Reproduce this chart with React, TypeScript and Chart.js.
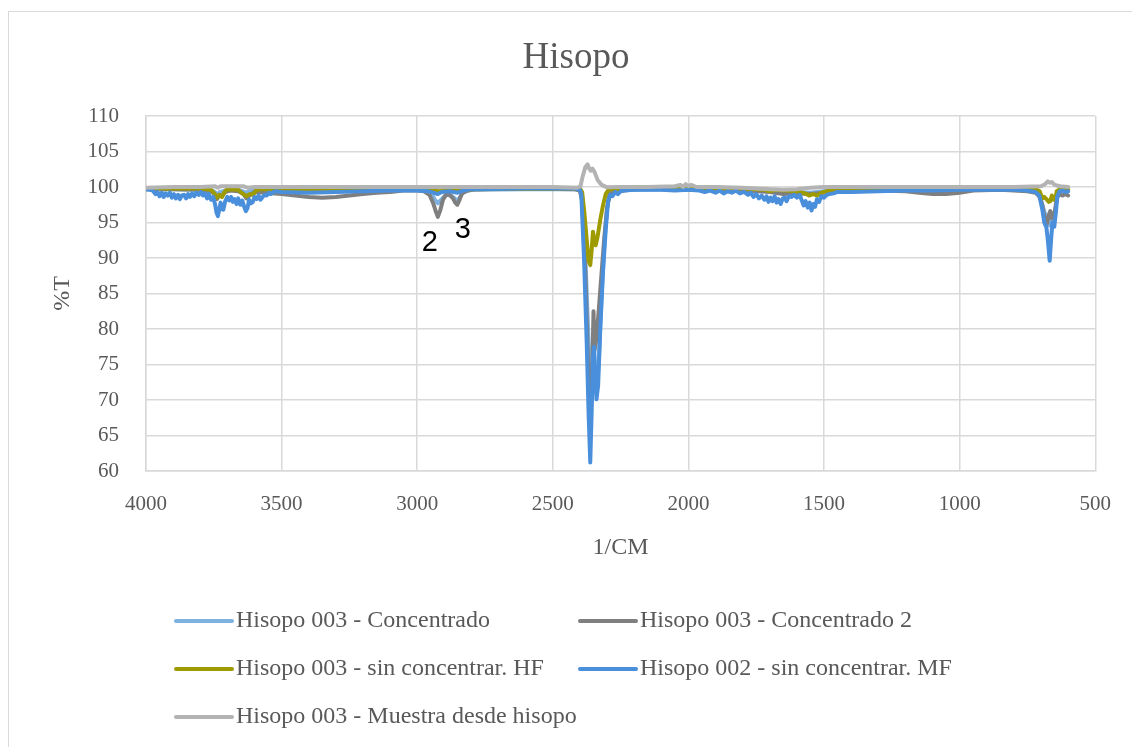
import { useEffect, useRef } from "react";
import { Chart, registerables } from "chart.js";

Chart.register(...registerables);

// FTIR transmittance spectra: [wavenumber (1/cm), %T]
const TITLE = "Hisopo";
const X_TITLE = "1/CM";
const Y_TITLE = "%T";

const seriesLabels = [
  "Hisopo 003 - Concentrado",
  "Hisopo 003 - Concentrado 2",
  "Hisopo 003 - sin concentrar. HF",
  "Hisopo 002 - sin concentrar. MF",
  "Hisopo 003 - Muestra desde hisopo",
];

const seriesColors = ["#7eb0e0", "#7f7f7f", "#9e9b00", "#4a8fdb", "#b3b3b3"];

const concentrado: [number, number][] = [
  [4000, 99.7], [3900, 99.7], [3800, 99.6], [3750, 99.4], [3740, 99.1], [3735, 98.8], [3728, 99.3],
  [3715, 99.4], [3700, 99.6], [3650, 99.5], [3632, 99.2], [3620, 99.4], [3600, 99.6], [3500, 99.5],
  [3300, 99.5], [3100, 99.6], [3000, 99.6], [2960, 99.4], [2945, 98.9], [2935, 98.2], [2924, 97.7],
  [2912, 98.2], [2895, 98.9], [2875, 98.8], [2862, 98.4], [2852, 98.0], [2842, 98.6], [2830, 99.3],
  [2800, 99.6], [2600, 99.7], [2420, 99.7], [2400, 99.5], [2392, 98.5], [2380, 90], [2370, 80],
  [2362, 72], [2355, 76], [2350, 79], [2344, 73], [2338, 71], [2330, 76], [2320, 85], [2310, 92],
  [2300, 97], [2290, 99.2], [2280, 99.4], [2200, 99.6], [2000, 99.7], [1800, 99.6], [1700, 99.5],
  [1600, 99.3], [1550, 99.2], [1500, 99.4], [1400, 99.5], [1200, 99.6], [1000, 99.6], [850, 99.6],
  [720, 99.5], [705, 98.8], [695, 97.5], [688, 96.5], [680, 95.8], [674, 95.3], [668, 94.6],
  [662, 95.6], [656, 95.9], [650, 96.3], [644, 97.5], [638, 98.8], [630, 99.3], [615, 99.4], [600, 99.4],
];

const concentrado2: [number, number][] = [
  [4000, 99.7], [3900, 99.7], [3800, 99.6], [3760, 99.4], [3748, 99.0], [3738, 98.3], [3730, 98.9],
  [3720, 98.7], [3708, 99.3], [3690, 99.5], [3660, 99.4], [3640, 99.0], [3630, 98.4], [3618, 98.8],
  [3600, 99.3], [3560, 99.2], [3500, 99.0], [3450, 98.8], [3400, 98.6], [3350, 98.5], [3300, 98.6],
  [3250, 98.8], [3200, 99.0], [3150, 99.2], [3100, 99.3], [3050, 99.5], [3000, 99.5], [2975, 99.4],
  [2955, 98.9], [2940, 97.6], [2930, 96.4], [2924, 95.8], [2916, 96.6], [2905, 98.2], [2892, 99.0],
  [2880, 98.9], [2868, 98.4], [2860, 97.8], [2852, 97.5], [2845, 98.1], [2835, 99.1], [2815, 99.5],
  [2780, 99.7], [2600, 99.8], [2420, 99.7], [2400, 99.5], [2392, 98], [2380, 88], [2370, 75],
  [2362, 66], [2356, 72], [2350, 82.5], [2346, 77], [2340, 78.5], [2332, 82], [2320, 88], [2310, 93],
  [2300, 97], [2290, 99], [2280, 99.3], [2200, 99.7], [2000, 99.9], [1900, 99.7], [1800, 99.5],
  [1700, 99.3], [1650, 99.0], [1600, 99.1], [1550, 99.0], [1500, 99.2], [1450, 99.3], [1400, 99.4],
  [1300, 99.5], [1200, 99.4], [1150, 99.2], [1100, 99.0], [1050, 99.0], [1000, 99.2], [950, 99.5],
  [850, 99.6], [750, 99.4], [720, 99.2], [705, 98.6], [695, 97.4], [686, 95.4], [678, 94.8],
  [672, 96.0], [666, 96.6], [660, 95.6], [654, 96.0], [648, 96.8], [642, 98.4], [635, 99.0],
  [620, 98.8], [610, 99.0], [600, 98.8],
];

const sinConcentrarHF: [number, number][] = [
  [4000, 99.8], [3900, 99.8], [3800, 99.8], [3760, 99.6], [3748, 99.1], [3738, 98.5], [3730, 98.9],
  [3720, 98.6], [3710, 99.3], [3700, 99.7], [3660, 99.6], [3645, 99.1], [3630, 98.7], [3618, 99.0],
  [3605, 98.9], [3595, 99.5], [3580, 99.7], [3500, 99.7], [3000, 99.7], [2940, 99.6], [2924, 99.4],
  [2852, 99.5], [2800, 99.7], [2420, 99.8], [2400, 99.8], [2392, 99.3], [2384, 96.5], [2375, 92.5],
  [2368, 89.6], [2362, 89.0], [2357, 91.0], [2352, 93.7], [2347, 92.6], [2342, 91.8], [2335, 93.0],
  [2325, 95.4], [2315, 97.4], [2305, 99.0], [2295, 99.6], [2280, 99.7], [2100, 99.8], [2000, 99.9],
  [1800, 99.8], [1720, 99.6], [1700, 99.4], [1680, 99.6], [1600, 99.4], [1570, 99.1], [1555, 98.8],
  [1540, 99.0], [1525, 98.8], [1510, 99.2], [1480, 99.5], [1400, 99.7], [1000, 99.8], [800, 99.8],
  [720, 99.7], [705, 99.4], [695, 98.4], [688, 98.6], [680, 98.3], [672, 97.9], [666, 98.0],
  [660, 98.8], [654, 98.2], [648, 98.3], [642, 99.4], [630, 99.7], [600, 99.7],
];

const sinConcentrarMF: [number, number][] = [
  [4000, 99.7], [3985, 99.6], [3975, 99.5], [3965, 99.0], [3958, 99.3], [3950, 98.7], [3942, 99.2],
  [3935, 98.6], [3928, 99.1], [3920, 98.8], [3912, 99.2], [3905, 98.5], [3897, 99.0], [3890, 98.4],
  [3882, 98.9], [3875, 98.3], [3868, 98.8], [3860, 98.9], [3852, 98.4], [3845, 99.0], [3838, 98.6],
  [3830, 99.1], [3822, 98.7], [3815, 99.2], [3805, 98.9], [3797, 99.3], [3790, 98.8], [3782, 99.1],
  [3775, 98.4], [3768, 99.0], [3760, 98.2], [3752, 98.6], [3745, 97.5], [3740, 96.4], [3735, 95.9],
  [3730, 96.8], [3725, 97.8], [3720, 96.9], [3715, 96.8], [3708, 98.0], [3700, 98.6], [3693, 98.1],
  [3686, 98.6], [3680, 97.9], [3673, 98.3], [3666, 97.6], [3660, 98.4], [3652, 97.5], [3645, 98.1],
  [3638, 97.2], [3632, 96.6], [3626, 97.0], [3620, 98.2], [3613, 97.7], [3606, 97.9], [3600, 98.6],
  [3592, 98.3], [3585, 98.8], [3578, 98.2], [3570, 98.6], [3562, 98.9], [3555, 98.8], [3547, 99.2],
  [3540, 99.0], [3530, 99.3], [3520, 99.4], [3500, 99.3], [3400, 99.2], [3300, 99.3], [3200, 99.4],
  [3100, 99.5], [3000, 99.5], [2960, 99.4], [2940, 99.2], [2924, 99.0], [2910, 99.3], [2880, 99.4],
  [2852, 99.2], [2830, 99.5], [2800, 99.7], [2600, 99.8], [2420, 99.8], [2400, 99.6], [2395, 99.0],
  [2385, 90], [2375, 78], [2368, 68], [2362, 61.2], [2357, 68], [2352, 76], [2348, 77.5],
  [2344, 73.5], [2339, 70.1], [2333, 72], [2325, 80], [2315, 88], [2305, 94], [2296, 98.0],
  [2288, 98.9], [2280, 98.7], [2270, 99.3], [2260, 99.0], [2250, 99.4], [2240, 99.5], [2200, 99.6],
  [2100, 99.6], [2050, 99.5], [2000, 99.6], [1960, 99.5], [1940, 99.3], [1920, 99.5], [1900, 99.2],
  [1885, 99.5], [1870, 99.1], [1855, 99.4], [1840, 99.2], [1825, 99.5], [1810, 99.1], [1795, 99.3],
  [1780, 98.9], [1770, 99.2], [1760, 98.6], [1750, 99.0], [1740, 98.4], [1730, 98.8], [1720, 98.2],
  [1712, 98.7], [1705, 97.9], [1697, 98.5], [1690, 98.0], [1682, 98.7], [1675, 97.8], [1668, 98.3],
  [1660, 97.6], [1652, 98.4], [1645, 98.5], [1638, 98.0], [1630, 98.7], [1620, 98.6], [1610, 98.9],
  [1600, 98.5], [1590, 98.9], [1582, 98.1], [1575, 97.4], [1568, 98.0], [1560, 97.1], [1553, 97.8],
  [1546, 96.7], [1540, 97.6], [1533, 97.2], [1526, 98.3], [1518, 97.9], [1510, 98.7], [1500, 98.5],
  [1490, 98.9], [1480, 99.0], [1465, 99.1], [1450, 99.3], [1400, 99.3], [1300, 99.4], [1200, 99.5],
  [1100, 99.5], [1000, 99.6], [900, 99.6], [800, 99.6], [750, 99.5], [720, 99.3], [706, 98.8],
  [695, 96.8], [688, 95.0], [680, 94.3], [674, 92.2], [668, 89.6], [663, 92.5], [658, 95.0],
  [651, 94.4], [645, 96.5], [640, 98.7], [632, 99.4], [620, 99.5], [610, 99.3], [600, 99.4],
];

const muestraHisopo: [number, number][] = [
  [4000, 99.9], [3900, 100.0], [3800, 100.0], [3745, 100.1], [3735, 99.9], [3725, 100.1],
  [3640, 100.1], [3625, 99.9], [3600, 100.0], [3500, 100.0], [3000, 100.0], [2800, 100.0],
  [2500, 100.0], [2410, 99.9], [2398, 100.1], [2390, 101.5], [2380, 102.8], [2372, 103.2],
  [2366, 102.6], [2360, 102.3], [2354, 102.6], [2346, 102.1], [2335, 101.0], [2320, 100.3],
  [2300, 99.95], [2250, 100.0], [2150, 100.0], [2050, 100.1], [2030, 100.3], [2020, 100.0],
  [2010, 100.4], [2000, 100.1], [1990, 100.3], [1970, 100.0], [1900, 100.0], [1800, 99.9],
  [1700, 99.7], [1650, 99.6], [1600, 99.7], [1550, 99.9], [1500, 100.0], [1200, 100.0],
  [1000, 100.0], [800, 100.0], [700, 100.1], [685, 100.4], [675, 100.8], [668, 100.6],
  [660, 100.7], [650, 100.3], [630, 100.1], [600, 100.0],
];

const seriesData = [concentrado, concentrado2, sinConcentrarHF, sinConcentrarMF, muestraHisopo];

// Peak numbers written next to the C-H bands
const peakLabels = [
  { text: "2", wn: 2954, t: 92.1 },
  { text: "3", wn: 2832, t: 93.9 },
];

const SERIF = '"Liberation Serif", "Times New Roman", serif';
const SANS = '"Liberation Sans", Arial, sans-serif';
const TEXT_GRAY = "#595959";
const GRID_GRAY = "#d9d9d9";

const overlayPlugin = {
  id: "hisopoOverlay",
  afterDraw(chart: any) {
    const ctx: CanvasRenderingContext2D = chart.ctx;
    ctx.save();

    // chart title
    ctx.fillStyle = TEXT_GRAY;
    ctx.font = `37px ${SERIF}`;
    ctx.textAlign = "center";
    ctx.textBaseline = "middle";
    ctx.fillText(TITLE, 576, 58);

    // peak numbers
    const xs = chart.scales.x;
    const ys = chart.scales.y;
    ctx.fillStyle = "#000000";
    ctx.font = `29px ${SANS}`;
    for (const p of peakLabels) {
      ctx.fillText(p.text, xs.getPixelForValue(p.wn), ys.getPixelForValue(p.t));
    }

    // legend in two columns
    chart.data.datasets.forEach((ds: any, i: number) => {
      const col = i % 2;
      const row = Math.floor(i / 2);
      const x0 = col === 0 ? 176 : 580;
      const y = 621 + row * 48;
      ctx.strokeStyle = ds.borderColor;
      ctx.lineWidth = 4;
      ctx.lineCap = "round";
      ctx.beginPath();
      ctx.moveTo(x0, y);
      ctx.lineTo(x0 + 56, y);
      ctx.stroke();
      ctx.fillStyle = TEXT_GRAY;
      ctx.font = `24px ${SERIF}`;
      ctx.textAlign = "left";
      ctx.textBaseline = "middle";
      ctx.fillText(ds.label, x0 + 60, y);
    });

    ctx.restore();
  },
};

export default function App() {
  const canvasRef = useRef<HTMLCanvasElement | null>(null);

  useEffect(() => {
    const canvas = canvasRef.current;
    if (!canvas) return;

    const datasets = seriesData.map((pts, i) => ({
      label: seriesLabels[i],
      data: pts.map(([x, y]) => ({ x, y })),
      borderColor: seriesColors[i],
      backgroundColor: seriesColors[i],
      borderWidth: 4,
      pointRadius: 0,
      tension: 0,
      borderJoinStyle: "round" as const,
      borderCapStyle: "round" as const,
      fill: false,
      // later series are painted over earlier ones
      order: seriesData.length - i,
    }));

    const chart = new Chart(canvas, {
      type: "line",
      data: { datasets },
      options: {
        animation: false,
        responsive: false,
        devicePixelRatio: 1,
        parsing: false,
        normalized: true,
        layout: { padding: { left: 0, top: 116, right: 36, bottom: 181 } },
        plugins: {
          legend: { display: false },
          title: { display: false },
          tooltip: { enabled: false },
        },
        scales: {
          x: {
            type: "linear",
            reverse: true,
            min: 500,
            max: 4000,
            ticks: {
              stepSize: 500,
              padding: 21,
              color: TEXT_GRAY,
              font: { family: SERIF, size: 21 },
              maxRotation: 0,
              callback: (v: any) => String(v),
            },
            grid: { color: GRID_GRAY, lineWidth: 1.5, drawTicks: false },
            border: { color: GRID_GRAY, width: 1.5 },
            title: {
              display: true,
              text: X_TITLE,
              color: TEXT_GRAY,
              font: { family: SERIF, size: 24 },
              padding: { top: 0, bottom: 4 },
            },
            afterFit: (s: any) => {
              s.height = 95;
            },
          },
          y: {
            type: "linear",
            min: 60,
            max: 110,
            ticks: {
              stepSize: 5,
              padding: 27,
              color: TEXT_GRAY,
              font: { family: SERIF, size: 21 },
              callback: (v: any) => String(v),
            },
            grid: { color: GRID_GRAY, lineWidth: 1.5, drawTicks: false },
            border: { color: GRID_GRAY, width: 1.5 },
            title: {
              display: true,
              text: Y_TITLE,
              color: TEXT_GRAY,
              font: { family: SERIF, size: 24 },
              padding: { top: 48, bottom: 0 },
            },
            afterFit: (s: any) => {
              s.width = 146;
            },
          },
        },
      },
      plugins: [overlayPlugin],
    });

    return () => chart.destroy();
  }, []);

  return (
    <div
      style={{
        position: "absolute",
        left: 0,
        top: 0,
        width: 1132,
        height: 747,
        overflow: "hidden",
        background: "#ffffff",
      }}
    >
      <div
        style={{
          position: "absolute",
          left: 8,
          top: 11,
          width: 1160,
          height: 780,
          border: `1.5px solid ${GRID_GRAY}`,
          boxSizing: "border-box",
        }}
      />
      <canvas
        ref={canvasRef}
        width={1132}
        height={747}
        style={{ position: "absolute", left: 0, top: 0, width: 1132, height: 747 }}
      />
    </div>
  );
}
